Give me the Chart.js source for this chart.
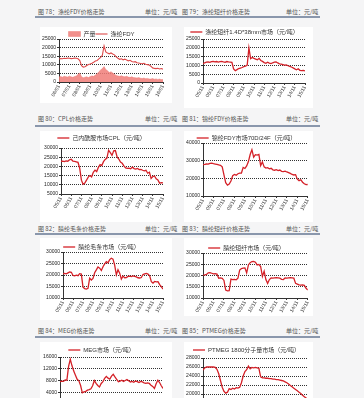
<!DOCTYPE html>
<html><head><meta charset="utf-8">
<script src="https://cdn.jsdelivr.net/npm/chart.js@4/dist/chart.umd.min.js"></script>
<style>
html,body{margin:0;padding:0;width:364px;height:398px;overflow:hidden;background:#f5f5f6;font-family:"Noto Sans CJK SC","Noto Sans",sans-serif;position:relative;}
.cap{position:absolute;font-size:6px;color:#555;white-space:nowrap;line-height:8px;}
.sep{position:absolute;height:2px;background:#8a97ac;left:35px;width:285px;}
.box{position:absolute;background:#fff;}
canvas{position:absolute;}
</style></head><body>
<div class="cap" style="left:38px;top:8px">图 78：涤纶FDY价格走势</div>
<div class="cap" style="left:145px;top:8px">单位：元/吨</div>
<div class="cap" style="left:182px;top:8px">图 79：涤纶短纤价格走势</div>
<div class="cap" style="left:286px;top:8px">单位：元/吨</div>
<div class="sep" style="top:16px"></div>

<div class="cap" style="left:38px;top:115px">图 80：CPL价格走势</div>
<div class="cap" style="left:145px;top:115px">单位：元/吨</div>
<div class="cap" style="left:182px;top:115px">图 81：锦纶FDY价格走势</div>
<div class="cap" style="left:286px;top:115px">单位：元/吨</div>
<div class="sep" style="top:125px"></div>

<div class="cap" style="left:38px;top:225px">图 82：腈纶毛条价格走势</div>
<div class="cap" style="left:145px;top:225px">单位：元/吨</div>
<div class="cap" style="left:182px;top:225px">图 83：腈纶短纤价格走势</div>
<div class="cap" style="left:286px;top:225px">单位：元/吨</div>
<div class="sep" style="top:233px"></div>

<div class="cap" style="left:38px;top:327px">图 84：MEG价格走势</div>
<div class="cap" style="left:145px;top:327px">单位：元/吨</div>
<div class="cap" style="left:182px;top:327px">图 85：PTMEG价格走势</div>
<div class="cap" style="left:286px;top:327px">单位：元/吨</div>
<div class="sep" style="top:336px"></div>

<div class="box" id="b1"></div><canvas id="c1"></canvas>
<div class="box" id="b2"></div><canvas id="c2"></canvas>
<div class="box" id="b3"></div><canvas id="c3"></canvas>
<div class="box" id="b4"></div><canvas id="c4"></canvas>
<div class="box" id="b5"></div><canvas id="c5"></canvas>
<div class="box" id="b6"></div><canvas id="c6"></canvas>
<div class="box" id="b7"></div><canvas id="c7"></canvas>
<div class="box" id="b8"></div><canvas id="c8"></canvas>
<script>
// ---------- data ----------
const fdyTicks = ["06/01","07/01","08/01","09/01","10/01","11/01","12/01","13/01","14/01","15/01","16/01"];
const fdyPrice = [13400,13600,13500,13800,13700,13900,13800,13600,13700,13900,
 13800,13500,12500,9500,8700,8900,9600,10200,10500,10900,
 11500,12200,12500,13400,14300,15500,21000,17500,16800,16400,
 16900,16300,15800,14600,13800,13200,13500,12900,13300,12800,
 12300,12600,11900,11600,11800,11200,11000,10800,10600,10900,
 10300,10100,9900,9200,8200,7900,7800,8000,7600,7800,7500];
const fdyOutput = [3000,3200,2800,3300,3100,2900,3400,3000,2700,3200,
 3500,4500,5200,3000,2500,2800,3000,2600,3200,3500,
 3300,4000,4800,6000,7000,7800,9000,7200,6500,5500,
 6000,5200,4500,3800,3500,3300,3600,3200,3000,3300,
 2900,2700,3000,2600,2500,2300,2600,2200,2000,2300,
 1900,2100,1800,1700,2000,1600,1800,1500,1700,1400,1500];

const psfTicks = ["05/11","06/11","07/11","08/11","09/11","10/11","11/11","12/11","13/11","14/11","15/11"];
const psfPrice = [11000,11500,11800,12000,11700,12100,12300,12000,12200,11900,
 12100,12300,12000,11800,12200,12000,11900,11700,8000,7000,
 7600,8200,8500,8800,9300,9600,10200,20000,13800,14500,
 14000,13600,13200,14000,12800,12300,11600,11200,11800,11300,
 11000,11500,11800,12000,11400,10900,10700,10500,10200,10300,
 9800,9500,9100,8600,8000,7500,8100,7200,7000,7200,6900];

const cplTicks = ["05/11","06/11","07/11","08/11","09/11","10/11","11/11","12/11","13/11","14/11","15/11"];
const cplPrice = [22800,22900,22600,23000,22800,23600,23900,22900,22700,22500,
 22200,19000,12500,10300,10900,12500,14200,15000,14300,16800,
 18000,17200,19500,21000,20500,22600,23800,24500,28800,27500,
 26000,28500,28600,25200,24000,22300,21700,20300,19200,18900,
 19100,18700,19600,18800,18500,18900,18300,18400,17900,17600,
 17900,16300,16800,13500,14500,14800,13200,12600,10900,11200,11000];

const pa6Ticks = ["05/11","06/11","07/11","08/11","09/11","10/11","11/11","12/11","13/11","14/11","15/11"];
const pa6Price = [27800,27900,28100,28000,28500,28600,28300,28100,27900,27600,
 27400,26500,22000,17500,16200,16800,18500,21500,22200,21800,
 22600,22900,23000,26200,25600,27000,29500,33500,36200,32000,
 33400,33200,33600,27200,29300,26500,25800,26000,25400,25700,
 24800,24600,24900,24400,24700,24000,23800,24100,23600,23200,
 22800,22200,21900,22100,19500,18700,19200,17800,16900,16400,16500];

const topsTicks = ["05/11","06/11","07/11","08/11","09/11","10/11","11/11","12/11","13/11","14/11","15/11"];
const topsPrice = [20600,20700,20500,20900,21300,21200,19800,19600,19900,19700,
 20600,20400,14700,14100,13900,14200,18600,17800,18500,21000,
 22200,23500,23000,22000,23600,24800,25800,25300,26700,27300,
 26900,24300,20100,22300,20800,18200,19500,18800,18900,19400,
 19500,19300,19600,19400,19200,18800,18700,18900,20200,20500,
 20700,20400,19600,17100,16500,17200,17000,17100,15800,14900,13900];

const acrTicks = ["05/11","06/11","07/11","08/11","09/11","10/11","11/11","12/11","13/11","14/11","15/11"];
const acrPrice = [20200,20300,20500,21200,21300,21000,20700,20800,20600,18800,
 18900,18700,17800,13500,13200,13300,18400,18200,18300,18100,
 18800,22400,23100,23300,23400,21200,24700,25700,26200,26300,
 25900,24700,24900,24000,19600,21900,18200,16500,18200,18900,
 18800,18900,19000,18900,18800,18300,18200,18900,18800,18900,
 19000,18900,18800,16500,16200,15800,15700,15800,15600,14300,13600];

const megTicks = ["05/11","06/11","07/11","08/11","09/11","10/11","11/11","12/11","13/11","14/11","15/11"];
const megPrice = [7600,7800,7700,8200,8100,12800,15200,13000,11200,9800,
 8400,7900,6300,3800,4100,4300,4700,4900,5200,6200,
 8000,7000,6300,5800,7000,7600,8700,9400,8800,8500,
 9500,10100,9200,8400,7600,7800,8100,7700,8000,8300,
 7900,7500,7700,7400,7800,7600,7300,7700,7500,7200,
 7000,7200,7000,6400,6000,5300,6900,8100,7300,6200,5300];

const ptmegTicks = ["05/11","06/11","07/11","08/11","09/11","10/11","11/11","12/11","13/11","14/11","15/11"];
const ptmegPrice = [25300,25800,26000,26000,26000,26000,26000,25900,25500,24500,
 23000,21500,20600,20200,20400,21200,21000,21300,21100,21400,
 21300,21500,22500,24000,25000,25400,26200,25600,25900,25800,
 25900,25800,25700,23800,23600,23600,23500,23500,23400,23400,
 23300,23300,23200,23200,23100,23000,22900,22700,22500,22200,
 21900,21600,21300,21000,20700,20400,20100,19700,19400,19100,18800];

// ---------- helpers ----------
const RED = '#d42128';
const TFONT = '"Liberation Sans","Noto Sans CJK SC",sans-serif';
const pts = arr => arr.map((v,i)=>({x:i,y:v}));
function lineSet(label, arr){
  return {label, data:pts(arr), borderColor:RED, backgroundColor:RED, borderWidth:1.3,
    pointRadius:0, pointStyle:'line', tension:0, fill:false};
}
function build(n, g, datasets, yMin, yMax, yStep, ticks){
  const box = document.getElementById('b'+n);
  Object.assign(box.style,{left:g.bx+'px',top:g.by+'px',width:g.bw+'px',height:g.bh+'px'});
  const c = document.getElementById('c'+n);
  c.width = g.bw; c.height = g.bh;
  Object.assign(c.style,{left:g.bx+'px',top:g.by+'px',width:g.bw+'px',height:g.bh+'px'});
  const padTop = g.lc - g.by - 3;
  new Chart(c, {
    type:'line',
    data:{datasets},
    options:{
      responsive:false, animation:false, devicePixelRatio:1,
      layout:{autoPadding:false, padding:{left:0, right:(g.bx+g.bw)-g.pr, top:padTop, bottom:0}},
      plugins:{
        legend:{display:true, position:'top', maxHeight:(g.pt-g.by)-padTop,
          labels:{font:{size:6,family:TFONT}, color:'#333', padding:0, usePointStyle:true, pointStyleWidth:12, boxHeight:5}},
        tooltip:{enabled:false}
      },
      scales:{
        x:{type:'linear', min:0, max:60,
          afterFit:s=>{s.height = Math.max(4,(g.by+g.bh)-g.pb);},
          ticks:{stepSize:6, autoSkip:false, maxRotation:60, minRotation:60, font:{size:5,family:TFONT}, color:'#333', padding:0,
            callback:v=>ticks[Math.round(v/6)]},
          grid:{drawOnChartArea:false, drawTicks:true, tickLength:2, tickColor:'#333'},
          border:{color:'#333', width:1}},
        y:{min:yMin, max:yMax,
          afterFit:s=>{s.width = g.pl-g.bx;},
          ticks:{stepSize:yStep, autoSkip:false, font:{size:5,family:TFONT}, color:'#222', padding:1,
            callback:v=>String(v)},
          grid:{color:'#333', lineWidth:1, drawTicks:true, tickLength:2, tickColor:'#333'},
          border:{color:'#333', width:1, dash:[1,1]}}
      }
    }
  });
}

build(1,{bx:40,by:27,bw:132,bh:76,pl:59,pr:163,pt:39,pb:82,lc:34},[
  {label:'产量', data:pts(fdyOutput), borderColor:'rgba(238,120,115,0.9)', backgroundColor:'rgba(240,125,120,0.85)', borderWidth:0.5, pointRadius:0, pointStyle:'rect', fill:'origin'},
  Object.assign(lineSet('涤纶FDY', fdyPrice),{borderColor:'#dd4a4a', backgroundColor:'#dd4a4a', borderWidth:1.1})
],0,25000,5000,fdyTicks);
build(2,{bx:184,by:27,bw:129,bh:81,pl:203,pr:305,pt:39,pb:83,lc:32},[lineSet('涤纶短纤1.4D*38mm市场（元/吨）', psfPrice)],0,25000,5000,psfTicks);
build(3,{bx:40,by:131,bw:132,bh:91,pl:61,pr:163,pt:148,pb:194,lc:138},[lineSet('己内酰胺市场CPL（元/吨）', cplPrice)],5000,30000,5000,cplTicks);
build(4,{bx:184,by:131,bw:129,bh:91,pl:203,pr:309,pt:143,pb:196,lc:138},[lineSet('锦纶FDY市场70D/24F（元/吨）', pa6Price)],10000,40000,10000,pa6Ticks);
build(5,{bx:40,by:238,bw:132,bh:82,pl:63,pr:163,pt:252,pb:298,lc:247},[lineSet('腈纶毛条市场（元/吨）', topsPrice)],10000,30000,5000,topsTicks);
build(6,{bx:184,by:238,bw:129,bh:78,pl:203,pr:309,pt:253,pb:298,lc:248},[lineSet('腈纶短纤市场（元/吨）', acrPrice)],10000,30000,5000,acrTicks);
build(7,{bx:40,by:342,bw:132,bh:80,pl:60,pr:163,pt:357,pb:404,lc:350},[lineSet('MEG市场（元/吨）', megPrice)],0,16000,4000,megTicks);
build(8,{bx:184,by:342,bw:129,bh:80,pl:203,pr:309,pt:358,pb:412,lc:350},[lineSet('PTMEG 1800分子量市场（元/吨）', ptmegPrice)],16000,28000,2000,ptmegTicks);
</script>
</body></html>
